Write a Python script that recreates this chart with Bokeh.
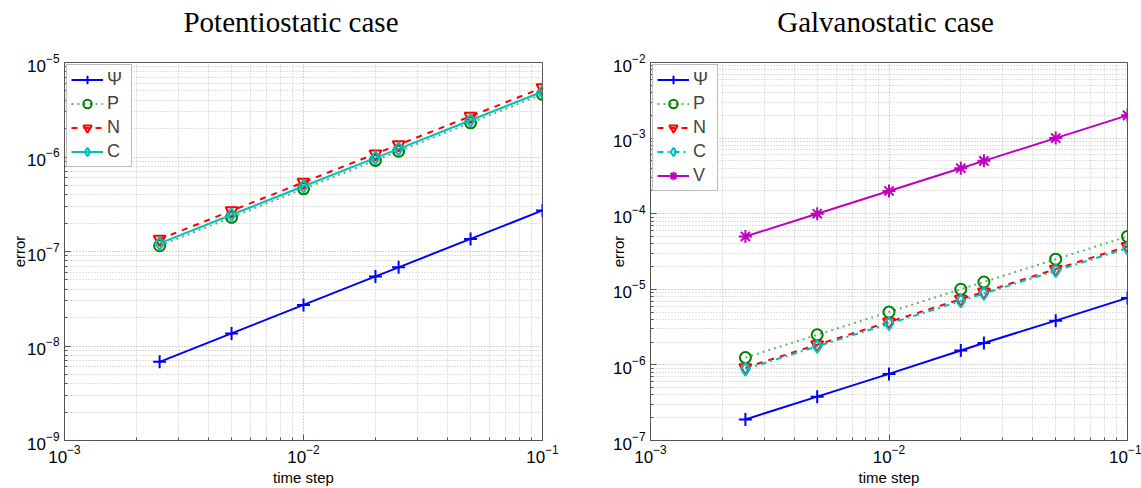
from bokeh.plotting import figure
from bokeh.layouts import row, column
from bokeh.models import FixedTicker, Legend, LegendItem, Div
from bokeh.embed import file_html
from bokeh.resources import INLINE

# ---- data ----
time_step = [0.0025, 0.005, 0.01, 0.02, 0.025, 0.05, 0.1]

# Potentiostatic case
pot_psi = [6.8e-9, 1.36e-8, 2.72e-8, 5.45e-8, 6.8e-8, 1.36e-7, 2.72e-7]
pot_p = [1.15e-7, 2.3e-7, 4.6e-7, 9.2e-7, 1.15e-6, 2.3e-6, 4.6e-6]
pot_n = [1.35e-7, 2.7e-7, 5.4e-7, 1.08e-6, 1.35e-6, 2.7e-6, 5.4e-6]
pot_c = [1.22e-7, 2.45e-7, 4.9e-7, 9.8e-7, 1.22e-6, 2.45e-6, 4.9e-6]

# Galvanostatic case
gal_psi = [1.9e-7, 3.8e-7, 7.6e-7, 1.55e-6, 1.95e-6, 3.85e-6, 7.7e-6]
gal_p = [1.25e-6, 2.5e-6, 5.0e-6, 1.0e-5, 1.25e-5, 2.5e-5, 5.0e-5]
gal_n = [9.2e-7, 1.85e-6, 3.7e-6, 7.4e-6, 9.2e-6, 1.85e-5, 3.7e-5]
gal_c = [8.8e-7, 1.76e-6, 3.5e-6, 7.0e-6, 8.8e-6, 1.76e-5, 3.5e-5]
gal_v = [5.0e-5, 1.0e-4, 2.0e-4, 4.0e-4, 5.0e-4, 1.0e-3, 2.0e-3]

x_ticks = [1e-3, 1e-2, 1e-1]
pot_y_ticks = [1e-9, 1e-8, 1e-7, 1e-6, 1e-5]
gal_y_ticks = [1e-7, 1e-6, 1e-5, 1e-4, 1e-3, 1e-2]

titles = ["Potentiostatic case", "Galvanostatic case"]
x_label = "time step"
y_label = "error"


def minors(majors):
    out = []
    for m in majors[:-1]:
        out += [m * k for k in range(2, 10)]
    return out


SANS = "Liberation Sans"
TITLE_H = 44
HEIGHT = 488 - TITLE_H


def make_title(text, width, pad_left):
    return Div(text=text, width=width, height=TITLE_H, margin=0,
               styles={"font-family": "Liberation Serif", "font-size": "29px",
                       "color": "black", "text-align": "center",
                       "line-height": f"{TITLE_H}px", "padding-left": f"{pad_left}px",
                       "box-sizing": "border-box", "white-space": "nowrap"})


def make_fig(width, bl, br, yticks, ylab_standoff):
    p = figure(width=width, height=HEIGHT, x_axis_type="log", y_axis_type="log",
               x_range=(x_ticks[0], x_ticks[-1]), y_range=(yticks[0], yticks[-1]),
               output_backend="svg", toolbar_location=None, title=None,
               min_border_left=bl, min_border_right=br,
               min_border_top=62 - TITLE_H, min_border_bottom=46, margin=0)
    p.outline_line_color = "#555555"
    p.outline_line_width = 1
    p.xaxis.ticker = FixedTicker(ticks=x_ticks, minor_ticks=minors(x_ticks))
    p.yaxis.ticker = FixedTicker(ticks=yticks, minor_ticks=minors(yticks))
    for ax in (p.xaxis, p.yaxis):
        ax.axis_line_color = "#555555"
        ax.major_tick_in = 6
        ax.major_tick_out = 0
        ax.minor_tick_in = 3
        ax.minor_tick_out = 0
        ax.major_tick_line_color = "#555555"
        ax.minor_tick_line_color = "#555555"
        ax.major_label_text_font = SANS
        ax.major_label_text_font_size = "17px"
        ax.major_label_text_color = "black"
        ax.axis_label_text_font = SANS
        ax.axis_label_text_font_size = "15px"
        ax.axis_label_text_font_style = "normal"
        ax.axis_label_text_color = "black"
    p.xaxis.axis_label = x_label
    p.yaxis.axis_label = y_label
    p.xaxis.major_label_standoff = 4
    p.xaxis.axis_label_standoff = 3
    p.yaxis.major_label_standoff = 5
    p.yaxis.axis_label_standoff = ylab_standoff
    for g in (p.xgrid, p.ygrid):
        g.grid_line_color = "#a8a8a8"
        g.grid_line_dash = "1 2"
        g.grid_line_width = 1
        g.minor_grid_line_color = "#c0c0c0"
        g.minor_grid_line_dash = "1 2"
        g.minor_grid_line_width = 1
    return p


def add_series(p, ys, color, line_color, dash, marker, size, items, label):
    r1 = p.line(time_step, ys, line_color=line_color, line_width=2, line_dash=dash)
    r2 = p.scatter(time_step, ys, marker=marker, size=size, line_color=color,
                   fill_color=None, line_width=2)
    items.append(LegendItem(label=label, renderers=[r1, r2]))


def add_legend(p, items):
    leg = Legend(items=items, location="top_left")
    leg.label_text_font = SANS
    leg.label_text_font_size = "18px"
    leg.glyph_width = 32
    leg.glyph_height = 21
    leg.label_height = 21
    leg.spacing = 3
    leg.padding = 4
    leg.margin = 2
    leg.label_standoff = 4
    leg.border_line_color = "#777777"
    leg.border_line_width = 1
    leg.background_fill_alpha = 1
    p.add_layout(leg)


p1 = make_fig(570, 64, 28, pot_y_ticks, -4)
it1 = []
add_series(p1, pot_psi, "#0000ff", "#0000ff", "solid", "cross", 13, it1, "Ψ")
add_series(p1, pot_p, "#008000", "#66b366", "dotted", "circle", 11, it1, "P")
add_series(p1, pot_n, "#ff0000", "#ff0000", "dashed", "inverted_triangle", 12, it1, "N")
add_series(p1, pot_c, "#00bfbf", "#00bfbf", "solid", "diamond", 13, it1, "C")
add_legend(p1, it1)

p2 = make_fig(571, 80, 14, gal_y_ticks, -17)
it2 = []
add_series(p2, gal_psi, "#0000ff", "#0000ff", "solid", "cross", 13, it2, "Ψ")
add_series(p2, gal_p, "#008000", "#66b366", "dotted", "circle", 11, it2, "P")
add_series(p2, gal_n, "#ff0000", "#ff0000", "dashed", "inverted_triangle", 12, it2, "N")
add_series(p2, gal_c, "#00bfbf", "#00bfbf", "dashdot", "diamond", 13, it2, "C")
add_series(p2, gal_v, "#bf00bf", "#bf00bf", "solid", "asterisk", 13, it2, "V")
add_legend(p2, it2)

t1 = make_title(titles[0], 570, 12)
t2 = make_title(titles[1], 571, 60)

layout = column(row(t1, t2, spacing=0), row(p1, p2, spacing=0), spacing=0)
open("out.html", "w").write(file_html(layout, INLINE))
